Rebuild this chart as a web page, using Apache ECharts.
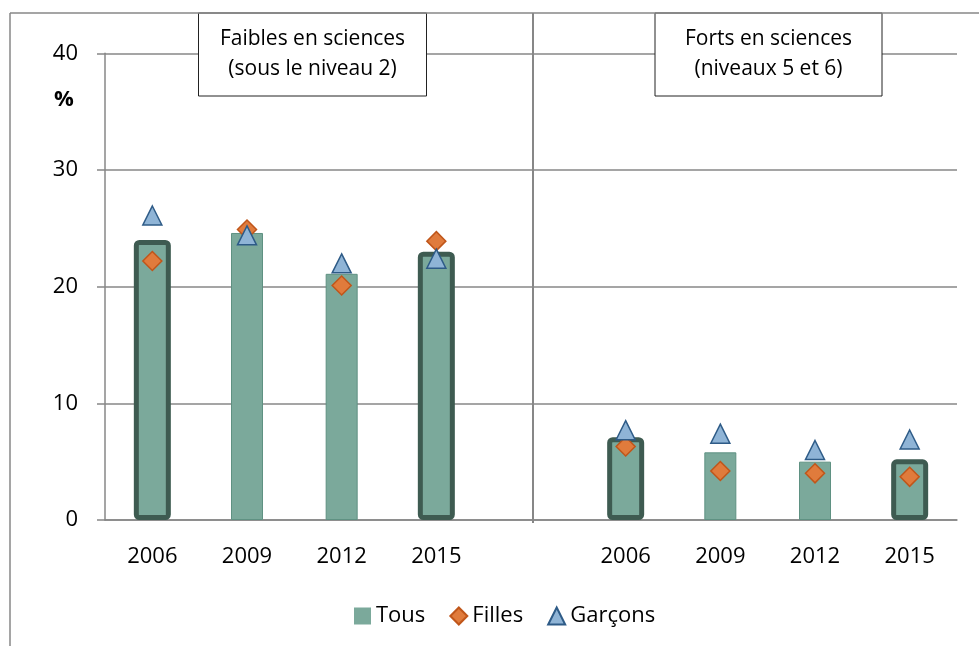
<!DOCTYPE html>
<html>
<head>
<meta charset="utf-8">
<script src="https://cdn.jsdelivr.net/npm/echarts@6/dist/echarts.min.js"></script>
<style>
html,body{margin:0;padding:0;background:#fff;}
#chart{width:979px;height:646px;}
</style>
</head>
<body>
<div id="chart"></div>
<script>
// ---- data ----
const categories = ['2006','2009','2012','2015','','2006','2009','2012','2015'];
const tous    = [24.0, 24.6, 21.1, 23.0, '-', 7.1, 5.8, 5.0, 5.2];
const filles  = [22.2, 24.9, 20.1, 23.9, '-', 6.3, 4.2, 4.0, 3.7];
const garcons = [26.1, 24.4, 22.0, 22.4, '-', 7.7, 7.4, 6.0, 6.9];
const highlighted = [true, false, false, true, false, true, false, false, true];
const yTicks = [0, 10, 20, 30, 40];
const panelTitles = ['Faibles en sciences\n(sous le niveau 2)', 'Forts en sciences\n(niveaux 5 et 6)'];
const seriesNames = ['Tous', 'Filles', 'Garçons'];

const FONT = 'Open Sans';
const GRID = '#878787';
const BAR_FILL = '#7ba99b';

const chart = echarts.init(document.getElementById('chart'), null, {renderer: 'canvas'});

const plainBars = tous.map((v, i) => highlighted[i] ? '-' : v);
const boldBars  = tous.map((v, i) => highlighted[i] ? v : '-');

const option = {
  animation: false,
  backgroundColor: '#fff',
  grid: {left: 105, right: 22, top: 53.3, bottom: 126, containLabel: false},
  xAxis: [{
    type: 'category',
    data: categories,
    axisLine: {show: true, lineStyle: {color: GRID, width: 1.5}},
    axisTick: {show: false},
    axisLabel: {color: '#000', fontFamily: FONT, fontSize: 22, margin: 26, interval: 0},
    splitLine: {show: false}
  }, {
    type: 'category', data: categories, show: false, position: 'bottom'
  }],
  yAxis: {
    type: 'value',
    min: yTicks[0], max: yTicks[yTicks.length - 1], interval: 10,
    axisLine: {show: true, lineStyle: {color: GRID, width: 1.5}},
    axisTick: {show: true, inside: false, length: 8, lineStyle: {color: GRID, width: 1.5}},
    axisLabel: {color: '#000', fontFamily: FONT, fontSize: 22, margin: 27},
    splitLine: {show: true, lineStyle: {color: GRID, width: 1.5}}
  },
  legend: {
    left: 354, top: 605, padding: 0,
    itemGap: 24, itemWidth: 17, itemHeight: 17,
    textStyle: {color: '#000', fontFamily: FONT, fontSize: 22, padding: [0,0,0,0]},
    data: [
      {name: seriesNames[0], icon: 'rect', itemStyle: {color: BAR_FILL, borderWidth: 0}},
      {name: seriesNames[1], icon: 'diamond'},
      {name: seriesNames[2], icon: 'triangle'}
    ]
  },
  series: [
    {
      name: seriesNames[0], type: 'bar', data: plainBars, barWidth: 32, z: 2, xAxisIndex: 0,
      itemStyle: {color: BAR_FILL, borderColor: '#5f9182', borderWidth: 1}
    },
    {
      name: seriesNames[0], type: 'bar', data: boldBars, barWidth: 37, z: 2, xAxisIndex: 1,
      itemStyle: {color: BAR_FILL, borderColor: '#3e5b51', borderWidth: 5, borderRadius: 3}
    },
    {
      name: seriesNames[1], type: 'scatter', data: filles, symbol: 'diamond', symbolSize: 19, z: 3,
      itemStyle: {color: '#e07b3c', borderColor: '#c0561a', borderWidth: 1.5, opacity: 1}
    },
    {
      name: seriesNames[2], type: 'scatter', data: garcons, symbol: 'triangle', symbolSize: 19, z: 4,
      itemStyle: {color: '#8fb4d6', borderColor: '#2e5b87', borderWidth: 1.5, opacity: 1}
    }
  ]
};
chart.setOption(option);

const divX = chart.convertToPixel({xAxisIndex: 0}, 4);
const zeroY = chart.convertToPixel({yAxisIndex: 0}, 0);

function titleBox(x, w, text) {
  return {
    type: 'group', z: 100,
    children: [
      {type: 'rect', shape: {x: x, y: 13, width: w, height: 83},
       style: {fill: '#fff', stroke: '#222', lineWidth: 1}},
      {type: 'text', x: x + w / 2, y: 54,
       style: {text: text, fill: '#000', font: '21px "Open Sans"', align: 'center', verticalAlign: 'middle', lineHeight: 30}}
    ]
  };
}

chart.setOption({
  graphic: [
    {type: 'line', shape: {x1: 10, y1: 13, x2: 979, y2: 13}, style: {stroke: GRID, lineWidth: 1.5}, z: 50},
    {type: 'line', shape: {x1: 10, y1: 13, x2: 10, y2: 646}, style: {stroke: GRID, lineWidth: 1.5}, z: 50},
    {type: 'line', shape: {x1: divX + 2, y1: 13, x2: divX + 2, y2: zeroY + 3}, style: {stroke: GRID, lineWidth: 2}, z: 50},
    {type: 'text', x: 64, y: 100, style: {text: '%', fill: '#000', font: 'bold 22px "Open Sans"', align: 'center', verticalAlign: 'middle'}, z: 50},
    titleBox(198.5, 228, panelTitles[0]),
    titleBox(655, 227, panelTitles[1])
  ]
});
</script>
</body>
</html>
